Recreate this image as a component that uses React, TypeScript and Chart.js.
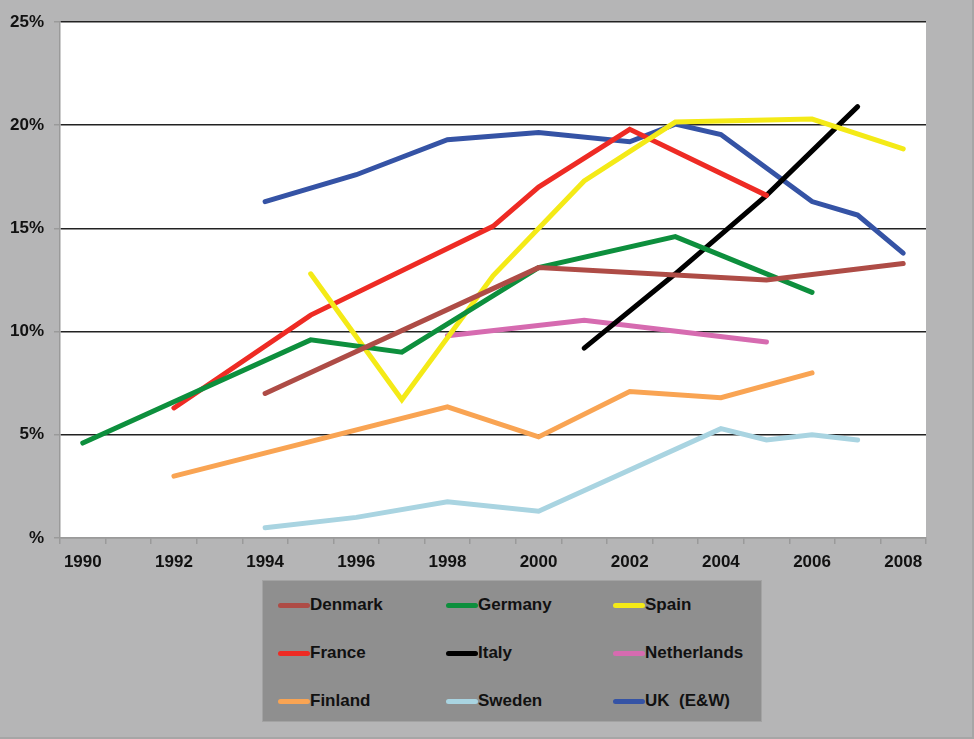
import React, { useRef, useEffect } from "react";
import Chart from "chart.js/auto";

const years = [
  "1990", "1991", "1992", "1993", "1994", "1995", "1996", "1997", "1998", "1999",
  "2000", "2001", "2002", "2003", "2004", "2005", "2006", "2007", "2008",
];

const _ = null;
const denmark = [_, _, _, _, 7.0, _, _, _, _, _, 13.1, _, _, _, _, 12.5, _, _, 13.3];
const germany = [4.6, _, _, _, _, 9.6, _, 9.0, _, _, 13.1, _, _, 14.6, _, _, 11.9, _, _];
const spain = [_, _, _, _, _, 12.8, _, 6.7, _, 12.7, _, 17.3, _, 20.15, _, _, 20.3, _, 18.85];
const france = [_, _, 6.3, _, _, 10.8, _, _, _, 15.1, 17.0, _, 19.8, _, _, 16.6, _, _, _];
const italy = [_, _, _, _, _, _, _, _, _, _, _, 9.2, _, 12.8, _, 16.6, _, 20.9, _];
const netherlands = [_, _, _, _, _, _, _, _, 9.8, _, _, 10.55, _, _, _, 9.5, _, _, _];
const finland = [_, _, 3.0, _, _, _, _, _, 6.35, _, 4.9, _, 7.1, _, 6.8, _, 8.0, _, _];
const sweden = [_, _, _, _, 0.5, _, 1.0, _, 1.75, _, 1.3, _, _, _, 5.3, 4.75, 5.0, 4.75, _];
const uk = [_, _, _, _, 16.3, _, 17.6, _, 19.3, _, 19.65, _, 19.2, 20.05, 19.55, _, 16.3, 15.65, 13.8];

const yTicks = [0, 5, 10, 15, 20, 25];

const series = [
  { label: "Denmark", data: denmark, color: "#ae4c46" },
  { label: "Germany", data: germany, color: "#0d8f3d" },
  { label: "Spain", data: spain, color: "#f4ea17" },
  { label: "France", data: france, color: "#ee2b24" },
  { label: "Italy", data: italy, color: "#000000" },
  { label: "Netherlands", data: netherlands, color: "#d66bb0" },
  { label: "Finland", data: finland, color: "#f9a453" },
  { label: "Sweden", data: sweden, color: "#a9d4e1" },
  { label: "UK  (E&W)", data: uk, color: "#3553a5" },
];

const font = "'Liberation Sans', Arial, sans-serif";

const App = () => {
  const canvasRef = useRef<HTMLCanvasElement>(null);

  useEffect(() => {
    const ctx = canvasRef.current?.getContext("2d");
    if (!ctx) return;
    const chart = new Chart(ctx, {
      type: "line",
      data: {
        labels: years,
        datasets: series.map((s) => ({
          label: s.label,
          data: s.data,
          borderColor: s.color,
          backgroundColor: s.color,
          borderWidth: 5,
          borderCapStyle: "round" as const,
          pointRadius: 0,
          pointHoverRadius: 0,
          spanGaps: true,
          tension: 0,
        })),
      },
      options: {
        animation: false,
        responsive: false,
        layout: { padding: { left: 0, top: 22, right: 48, bottom: 161 } },
        plugins: { legend: { display: false }, tooltip: { enabled: false } },
        scales: {
          x: {
            type: "category",
            offset: true,
            afterFit: (scale: any) => {
              scale.height = 40;
            },
            grid: {
              offset: true,
              drawOnChartArea: false,
              drawTicks: true,
              tickLength: 6,
              tickColor: "#9a9a9a",
              lineWidth: 1.5,
            },
            border: { color: "#9a9a9a", width: 1.5 },
            ticks: {
              autoSkip: false,
              maxRotation: 0,
              padding: 8,
              color: "#111",
              font: { family: font, size: 17, weight: "bold" },
              callback: (_v: any, i: number) => (i % 2 === 0 ? years[i] : ""),
            },
          },
          y: {
            min: 0,
            max: 25,
            afterFit: (scale: any) => {
              scale.width = 60;
            },
            afterBuildTicks: (scale: any) => {
              scale.ticks = yTicks.map((v) => ({ value: v }));
            },
            grid: {
              color: (c: any) => (c.tick && c.tick.value === 0 ? "#9a9a9a" : "#222"),
              lineWidth: 1.5,
              tickLength: 6,
              tickColor: "#9a9a9a",
            },
            border: { color: "#9a9a9a", width: 1.5 },
            ticks: {
              padding: 10,
              color: "#111",
              font: { family: font, size: 17, weight: "bold" },
              callback: (v: any) => (v === 0 ? "%" : v + "%"),
            },
          },
        },
      },
    });
    return () => {
      chart.destroy();
    };
  }, []);

  const cols = [278, 446, 613];
  const rows = [605, 653, 701];

  return (
    <div
      style={{
        position: "fixed",
        left: 0,
        top: 0,
        width: 974,
        height: 739,
        background: "#b5b5b6",
        boxSizing: "border-box",
        borderRight: "2px solid #a6a6a6",
        borderBottom: "2px solid #a6a6a6",
        fontFamily: font,
      }}
    >
      <div
        style={{
          position: "absolute",
          left: 60,
          top: 22,
          width: 866,
          height: 516,
          background: "#ffffff",
        }}
      />
      <canvas
        ref={canvasRef}
        width={974}
        height={739}
        style={{ position: "absolute", left: 0, top: 0, width: 974, height: 739 }}
      />
      <div
        style={{
          position: "absolute",
          left: 262,
          top: 580,
          width: 500,
          height: 142,
          background: "#8f8f8f",
          border: "1px solid #a3a3a3",
          boxSizing: "border-box",
        }}
      />
      {series.map((s, i) => {
        const x = cols[i % 3];
        const y = rows[Math.floor(i / 3)];
        return (
          <div
            key={s.label}
            style={{
              position: "absolute",
              left: x,
              top: y - 12,
              height: 24,
              display: "flex",
              alignItems: "center",
              whiteSpace: "pre",
            }}
          >
            <span
              style={{
                display: "inline-block",
                width: 32,
                height: 5,
                borderRadius: 3,
                background: s.color,
              }}
            />
            <span style={{ fontWeight: "bold", fontSize: 17, color: "#111" }}>{s.label}</span>
          </div>
        );
      })}
    </div>
  );
};

export default App;
